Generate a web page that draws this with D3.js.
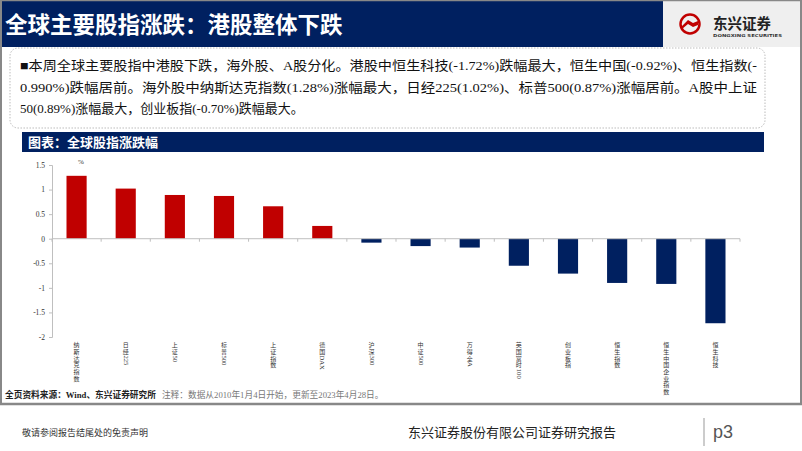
<!DOCTYPE html>
<html>
<head>
<meta charset="utf-8">
<script src="https://cdn.jsdelivr.net/npm/d3@7"></script>
<style>
  body { margin: 0; background: #fff; }
  svg { display: block; }
</style>
</head>
<body>
<div id="chart"></div>
<script>
// index names and weekly change (%)
var categories = ["纳斯达克指数", "日经225", "上证50", "标普500", "上证指数", "德国DAX", "沪深300",
    "中证500", "万得全A", "英国富时100", "创业板指", "恒生指数", "恒生中国企业指数", "恒生科技"];
var changes = [1.28, 1.02, 0.89, 0.87, 0.66, 0.26, -0.08, -0.15, -0.18, -0.55, -0.71, -0.90, -0.92, -1.72];
var yTicks = [1.5, 1, 0.5, 0, -0.5, -1, -1.5, -2];

var summaryLines = [
    "■本周全球主要股指中港股下跌，海外股、A股分化。港股中恒生科技(-1.72%)跌幅最大，恒生中国(-0.92%)、恒生指数(-",
    "0.990%)跌幅居前。海外股中纳斯达克指数(1.28%)涨幅最大，日经225(1.02%)、标普500(0.87%)涨幅居前。A股中上证",
    "50(0.89%)涨幅最大，创业板指(-0.70%)跌幅最大。"
];

var W = 802, H = 451;
var navy = "#002060", red = "#c00000";
var serif = "'Liberation Serif', 'Noto Sans CJK SC', serif";
var sans = "'Noto Sans CJK SC', sans-serif";

var svg = d3.select("#chart").append("svg")
    .attr("width", W)
    .attr("height", H);

// page frame
svg.append("rect").attr("x", 0).attr("y", 0).attr("width", W).attr("height", H).attr("fill", "#fff");
svg.append("rect").attr("x", 0).attr("y", 0).attr("width", 663).attr("height", 47).attr("fill", navy);
svg.append("rect").attr("x", 663).attr("y", 0).attr("width", W - 663).attr("height", 47).attr("fill", "#efefef");
svg.append("line").attr("x1", 0).attr("x2", W).attr("y1", 0.5).attr("y2", 0.5).attr("stroke", "#888").attr("stroke-width", 1.5);
svg.append("line").attr("x1", 1).attr("x2", 1).attr("y1", 0).attr("y2", 404).attr("stroke", "#888").attr("stroke-width", 2);
svg.append("line").attr("x1", 801).attr("x2", 801).attr("y1", 0).attr("y2", 404).attr("stroke", "#888").attr("stroke-width", 2);
svg.append("line").attr("x1", 0).attr("x2", W).attr("y1", 404).attr("y2", 404).attr("stroke", "#888").attr("stroke-width", 2.5);

svg.append("text")
    .attr("x", 5).attr("y", 33)
    .attr("fill", "#fff")
    .style("font-family", sans).style("font-weight", "bold").style("font-size", "22.5px")
    .text("全球主要股指涨跌：港股整体下跌");

// logo
var logo = svg.append("g").attr("transform", "translate(690,24)");
logo.append("circle").attr("r", 9.5).attr("fill", "none").attr("stroke", red).attr("stroke-width", 2.5);
logo.append("path").attr("d", "M-8,2 L-2,-4 L3,-1 L8,-3 L8,1 L3,3 L-2,0 L-8,5 Z").attr("fill", red);
svg.append("text").attr("x", 713).attr("y", 29)
    .attr("fill", "#222")
    .style("font-family", sans).style("font-weight", "bold").style("font-size", "14.5px")
    .text("东兴证券");
svg.append("text").attr("x", 713).attr("y", 37)
    .attr("fill", "#333").attr("textLength", 69).attr("lengthAdjust", "spacingAndGlyphs")
    .style("font-family", "'DejaVu Sans', sans-serif").style("font-weight", "bold").style("font-size", "4px")
    .text("DONGXING SECURITIES");

// summary box
svg.append("rect")
    .attr("x", 10).attr("y", 48).attr("width", 755).attr("height", 80)
    .attr("rx", 8)
    .attr("fill", "#fff").attr("stroke", "#bbb").attr("stroke-dasharray", "1.5,1.5");

svg.selectAll(".summary")
    .data(summaryLines)
    .enter().append("text")
    .attr("class", "summary")
    .attr("x", 20)
    .attr("y", function(d, i) { return 70 + i * 21.5; })
    .attr("textLength", function(d, i) { return i < 2 ? 737 : null; })
    .attr("lengthAdjust", "spacingAndGlyphs")
    .attr("fill", "#111")
    .style("font-family", serif).style("font-size", "13px")
    .text(function(d) { return d; });

// chart header
svg.append("rect").attr("x", 22).attr("y", 132).attr("width", 742).attr("height", 20).attr("fill", navy);
svg.append("text")
    .attr("x", 28).attr("y", 147)
    .attr("fill", "#fff")
    .style("font-family", sans).style("font-weight", "bold").style("font-size", "13px")
    .text("图表：全球股指涨跌幅");

// chart
var x = d3.scaleBand().domain(categories).range([52, 740]).paddingInner(0.59).paddingOuter(0.295);
var y = d3.scaleLinear().domain([-2, 1.5]).range([337, 165]);

var g = svg.append("g");

var yAxis = d3.axisLeft(y).tickValues(yTicks).tickSize(3).tickFormat(d3.format(""));
var ya = g.append("g").attr("transform", "translate(52,0)").call(yAxis);
ya.select(".domain").attr("stroke", "#bfbfbf");
ya.selectAll(".tick line").attr("stroke", "#bfbfbf");
ya.selectAll(".tick text")
    .attr("x", -7)
    .attr("fill", "#333")
    .style("font-family", serif).style("font-size", "7.5px")
    .text(function(d) { return d < 0 ? "-" + Math.abs(d) : d; });

g.selectAll(".bar")
    .data(changes)
    .enter().append("rect")
    .attr("class", "bar")
    .attr("x", function(d, i) { return x(categories[i]); })
    .attr("width", x.bandwidth())
    .attr("y", function(d) { return y(Math.max(0, d)); })
    .attr("height", function(d) { return Math.abs(y(d) - y(0)); })
    .attr("fill", function(d) { return d >= 0 ? red : navy; });

// zero line with category ticks
var step = x.step();
g.append("line")
    .attr("x1", 52).attr("x2", 740)
    .attr("y1", y(0)).attr("y2", y(0))
    .attr("stroke", "#bfbfbf");
g.selectAll(".ctick")
    .data(d3.range(categories.length + 1))
    .enter().append("line")
    .attr("class", "ctick")
    .attr("x1", function(i) { return 52 + i * step; })
    .attr("x2", function(i) { return 52 + i * step; })
    .attr("y1", y(0)).attr("y2", y(0) + 3)
    .attr("stroke", "#bfbfbf");

g.append("text")
    .attr("x", 81).attr("y", 164)
    .attr("text-anchor", "middle")
    .attr("fill", "#333")
    .style("font-family", serif).style("font-size", "7px")
    .text("%");

// vertical category labels: CJK upright, latin/digit runs turned sideways
function drawVertical(sel, label, cx, top, fs) {
    var runs = label.match(/[A-Za-z0-9]+|[^A-Za-z0-9]/g);
    var cur = top;
    runs.forEach(function(r) {
        if (/^[A-Za-z0-9]+$/.test(r)) {
            var t = sel.append("text")
                .attr("transform", "translate(" + (cx - fs * 0.32) + "," + cur + ") rotate(90)")
                .attr("fill", "#333")
                .style("font-family", serif).style("font-size", (fs + 0.6) + "px")
                .text(r);
            cur += t.node().getComputedTextLength() + 1;
        } else {
            sel.append("text")
                .attr("x", cx).attr("y", cur + fs * 0.88)
                .attr("text-anchor", "middle")
                .attr("fill", "#333")
                .style("font-family", serif).style("font-size", fs + "px")
                .text(r);
            cur += fs + 0.7;
        }
    });
}

categories.forEach(function(c) {
    drawVertical(g.append("g").attr("class", "clabel"), c, x(c) + x.bandwidth() / 2, 342, 6);
});

// source note
var src = svg.append("text").attr("x", 5).attr("y", 398)
    .style("font-family", serif).style("font-size", "8.7px");
src.append("tspan").attr("fill", "#222").style("font-weight", "bold").text("全页资料来源：Wind、东兴证券研究所");
src.append("tspan").attr("fill", "#777").attr("dx", 6).text("注释：数据从2010年1月4日开始，更新至2023年4月28日。");

// footer
svg.append("text").attr("x", 22).attr("y", 436)
    .attr("fill", "#333")
    .style("font-family", sans).style("font-size", "9px")
    .text("敬请参阅报告结尾处的免责声明");
svg.append("text").attr("x", 408).attr("y", 437)
    .attr("fill", "#222")
    .style("font-family", serif).style("font-size", "13px")
    .text("东兴证券股份有限公司证券研究报告");
svg.append("line").attr("x1", 704).attr("x2", 704).attr("y1", 418).attr("y2", 446).attr("stroke", "#999");
svg.append("text").attr("x", 713).attr("y", 438)
    .attr("fill", "#555")
    .style("font-family", "'Liberation Sans', sans-serif").style("font-size", "18px")
    .text("p3");
</script>
</body>
</html>
